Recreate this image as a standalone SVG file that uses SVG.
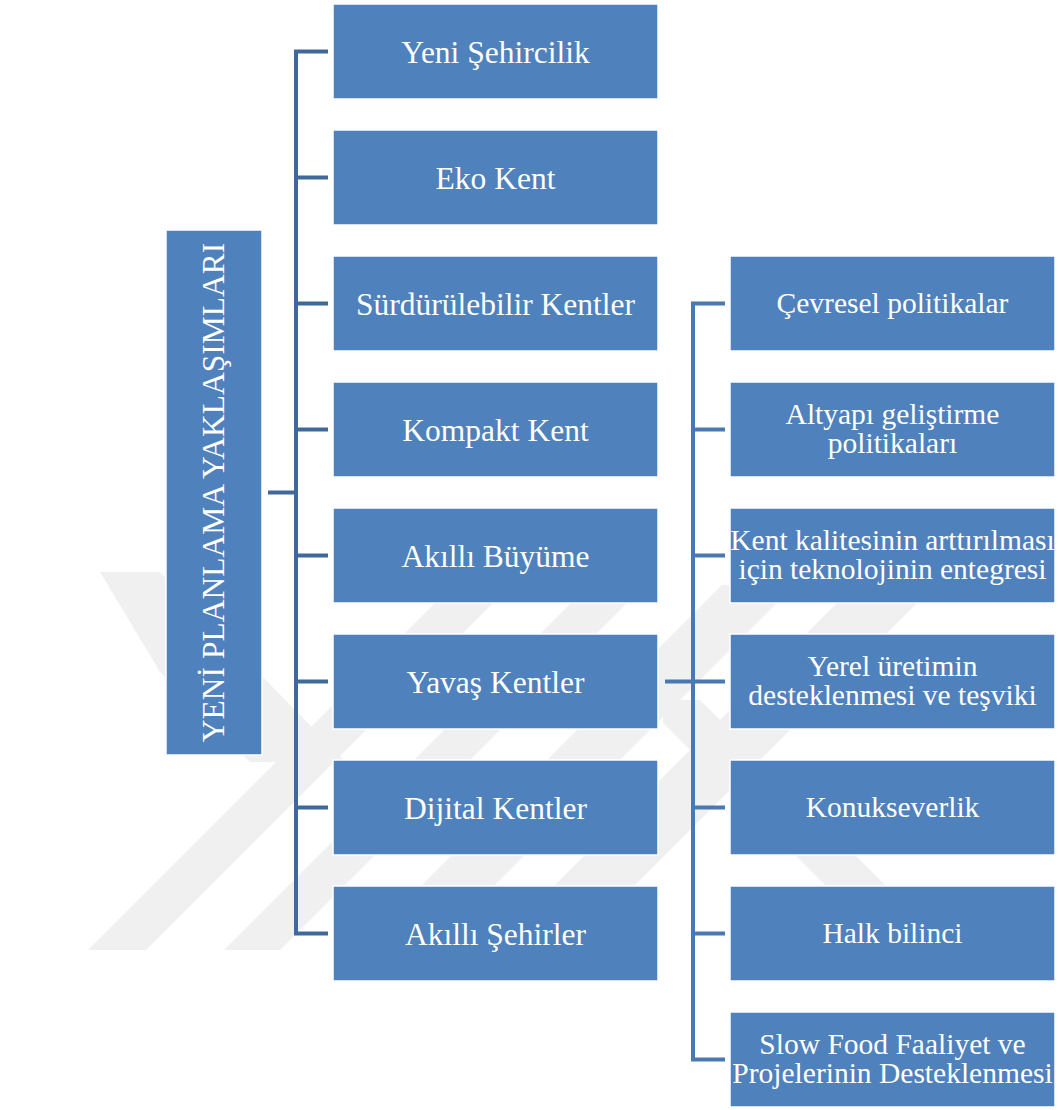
<svg xmlns="http://www.w3.org/2000/svg" width="1058" height="1110" viewBox="0 0 1058 1110">
  <style>
    .box { fill: #4f81bd; stroke: #ffffff; stroke-width: 1.5; }
    .lbl { font-family: "Liberation Serif", "Times New Roman", serif; fill: #ffffff; text-anchor: middle; }
    .l1 { font-size: 31.5px; }
    .l2 { font-size: 29.5px; }
    .wire1 { fill: none; stroke: #40699b; stroke-width: 4; stroke-linejoin: miter; }
    .wire2 { fill: none; stroke: #4a79b2; stroke-width: 4; stroke-linejoin: miter; }
    .mark { fill: #f0f0f0; }
  </style>

  <rect width="1058" height="1110" fill="#ffffff"/>

  <!-- faint background emblem -->
  <g id="emblem" class="mark">
    <polygon points="100,572 160,572 346,762 250,762 160,672"/>
    <polygon points="88,950 146,950 511,585 453,585"/>
    <polygon points="224,950 280,950 645,585 589,585"/>
    <polygon points="357,950 430,950 795,585 722,585"/>
    <polygon points="490,950 570,950 935,585 855,585"/>
    <polygon points="663,700 700,700 950,950 890,950 663,723"/>
  </g>

  <!-- connectors -->
  <g id="connectors">
    <path class="wire1" d="M268 492.5 H296"/>
    <path class="wire1" d="M328 51.5 H296 V933.5 H328"/>
    <path class="wire1" d="M296 177.5 H328 M296 303.5 H328 M296 429.5 H328 M296 555.5 H328 M296 681.5 H328 M296 807.5 H328"/>
    <path class="wire2" d="M665 681.5 H693"/>
    <path class="wire2" d="M725 303.5 H693 V1059.5 H725"/>
    <path class="wire2" d="M693 429.5 H725 M693 555.5 H725 M693 681.5 H725 M693 807.5 H725 M693 933.5 H725"/>
  </g>

  <!-- root -->
  <g id="root">
    <rect class="box" x="166" y="230" width="96" height="525"/>
    <text class="lbl l1" transform="translate(213 492.5) rotate(-90)" x="0" y="11">YENİ PLANLAMA YAKLAŞIMLARI</text>
  </g>

  <!-- first level -->
  <g id="yeni-sehircilik">
    <rect class="box" x="333" y="4" width="325" height="95"/>
    <text class="lbl l1" x="495.5" y="62.5">Yeni Şehircilik</text>
  </g>
  <g id="eko-kent">
    <rect class="box" x="333" y="130" width="325" height="95"/>
    <text class="lbl l1" x="495.5" y="188.5">Eko Kent</text>
  </g>
  <g id="surdurulebilir-kentler">
    <rect class="box" x="333" y="256" width="325" height="95"/>
    <text class="lbl l1" x="495.5" y="314.5">Sürdürülebilir Kentler</text>
  </g>
  <g id="kompakt-kent">
    <rect class="box" x="333" y="382" width="325" height="95"/>
    <text class="lbl l1" x="495.5" y="440.5">Kompakt Kent</text>
  </g>
  <g id="akilli-buyume">
    <rect class="box" x="333" y="508" width="325" height="95"/>
    <text class="lbl l1" x="495.5" y="566.5">Akıllı Büyüme</text>
  </g>
  <g id="yavas-kentler">
    <rect class="box" x="333" y="634" width="325" height="95"/>
    <text class="lbl l1" x="495.5" y="692.5">Yavaş Kentler</text>
  </g>
  <g id="dijital-kentler">
    <rect class="box" x="333" y="760" width="325" height="95"/>
    <text class="lbl l1" x="495.5" y="818.5">Dijital Kentler</text>
  </g>
  <g id="akilli-sehirler">
    <rect class="box" x="333" y="886" width="325" height="95"/>
    <text class="lbl l1" x="495.5" y="944.5">Akıllı Şehirler</text>
  </g>

  <!-- second level under Yavaş Kentler -->
  <g id="cevresel-politikalar">
    <rect class="box" x="730" y="256" width="325" height="95"/>
    <text class="lbl l2" x="892.5" y="313">Çevresel politikalar</text>
  </g>
  <g id="altyapi">
    <rect class="box" x="730" y="382" width="325" height="95"/>
    <text class="lbl l2" x="892.5" y="423.5">Altyapı geliştirme</text>
    <text class="lbl l2" x="892.5" y="452.5">politikaları</text>
  </g>
  <g id="kent-kalitesi">
    <rect class="box" x="730" y="508" width="325" height="95"/>
    <text class="lbl l2" x="892.5" y="549.5">Kent kalitesinin arttırılması</text>
    <text class="lbl l2" x="892.5" y="578.5">için teknolojinin entegresi</text>
  </g>
  <g id="yerel-uretim">
    <rect class="box" x="730" y="634" width="325" height="95"/>
    <text class="lbl l2" x="892.5" y="675.5">Yerel üretimin</text>
    <text class="lbl l2" x="892.5" y="704.5">desteklenmesi ve teşviki</text>
  </g>
  <g id="konukseverlik">
    <rect class="box" x="730" y="760" width="325" height="95"/>
    <text class="lbl l2" x="892.5" y="817">Konukseverlik</text>
  </g>
  <g id="halk-bilinci">
    <rect class="box" x="730" y="886" width="325" height="95"/>
    <text class="lbl l2" x="892.5" y="943">Halk bilinci</text>
  </g>
  <g id="slow-food">
    <rect class="box" x="730" y="1012" width="325" height="95"/>
    <text class="lbl l2" x="892.5" y="1053.5">Slow Food Faaliyet ve</text>
    <text class="lbl l2" x="892.5" y="1082.5">Projelerinin Desteklenmesi</text>
  </g>
</svg>
